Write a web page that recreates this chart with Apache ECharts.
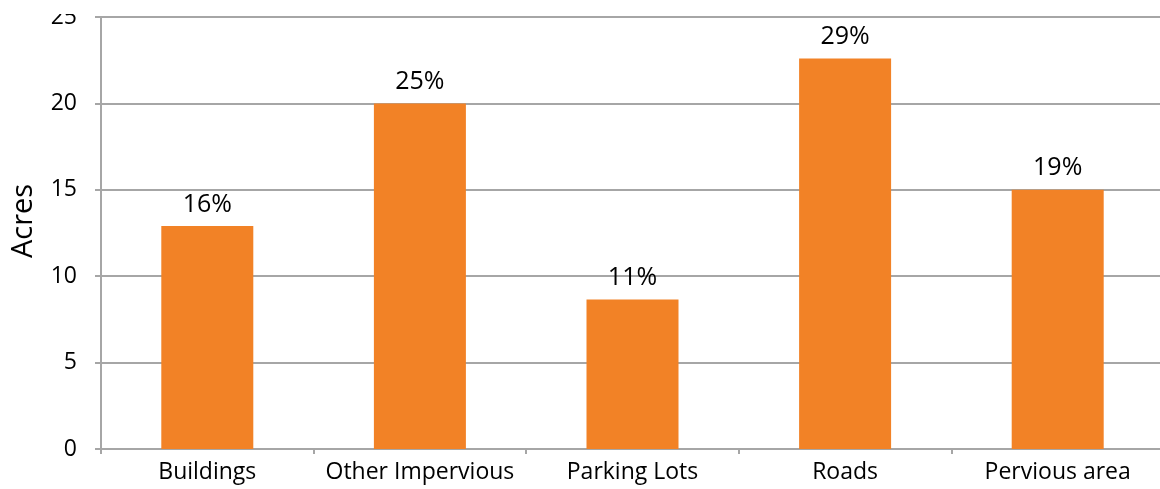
<!DOCTYPE html>
<html>
<head>
<meta charset="utf-8">
<script src="https://cdn.jsdelivr.net/npm/echarts@6/dist/echarts.min.js"></script>
<style>
html,body{margin:0;padding:0;background:#fff;}
#chart{width:1160px;height:489px;}
</style>
</head>
<body>
<div id="chart"></div>
<script>
const categories = ['Buildings', 'Other Impervious', 'Parking Lots', 'Roads', 'Pervious area'];
const acres = [12.9, 20.0, 8.65, 22.6, 15.0];
const percentLabels = ['16%', '25%', '11%', '29%', '19%'];
const yTicks = [0, 5, 10, 15, 20, 25];

const chart = echarts.init(document.getElementById('chart'));
const font = 'Open Sans';
chart.setOption({
  animation: false,
  grid: { left: 101, top: 17, bottom: 40, width: 1063, containLabel: false, outerBoundsMode: 'none' },
  graphic: [{
    type: 'rect', left: 0, top: 0, z: 100,
    shape: { width: 95, height: 14 },
    style: { fill: '#fff' }
  }],
  xAxis: {
    type: 'category',
    data: categories,
    axisLine: { lineStyle: { color: '#a6a6a6', width: 2 } },
    axisTick: { show: true, interval: 0, length: 5, alignWithLabel: false, lineStyle: { color: '#a6a6a6', width: 2 } },
    axisLabel: { interval: 0, color: '#000', fontFamily: font, fontSize: 23, margin: 12 }
  },
  yAxis: {
    type: 'value',
    min: yTicks[0],
    max: yTicks[yTicks.length - 1],
    interval: 5,
    name: 'Acres',
    nameLocation: 'middle',
    nameGap: 63,
    nameTextStyle: { color: '#000', fontFamily: font, fontSize: 29, padding: [0, 0, 0, 24] },
    axisLine: { show: true, lineStyle: { color: '#a6a6a6', width: 2 } },
    axisTick: { show: true, length: 6, lineStyle: { color: '#a6a6a6', width: 2 } },
    axisLabel: { color: '#000', fontFamily: font, fontSize: 23, margin: 24 },
    splitLine: { show: true, lineStyle: { color: '#a6a6a6', width: 2 } }
  },
  series: [{
    type: 'bar',
    data: acres,
    barWidth: 92,
    itemStyle: { color: '#F28226' },
    label: {
      show: true,
      position: 'top',
      distance: 9,
      color: '#000',
      fontFamily: font,
      fontSize: 25,
      formatter: p => percentLabels[p.dataIndex]
    }
  }]
});
</script>
</body>
</html>
